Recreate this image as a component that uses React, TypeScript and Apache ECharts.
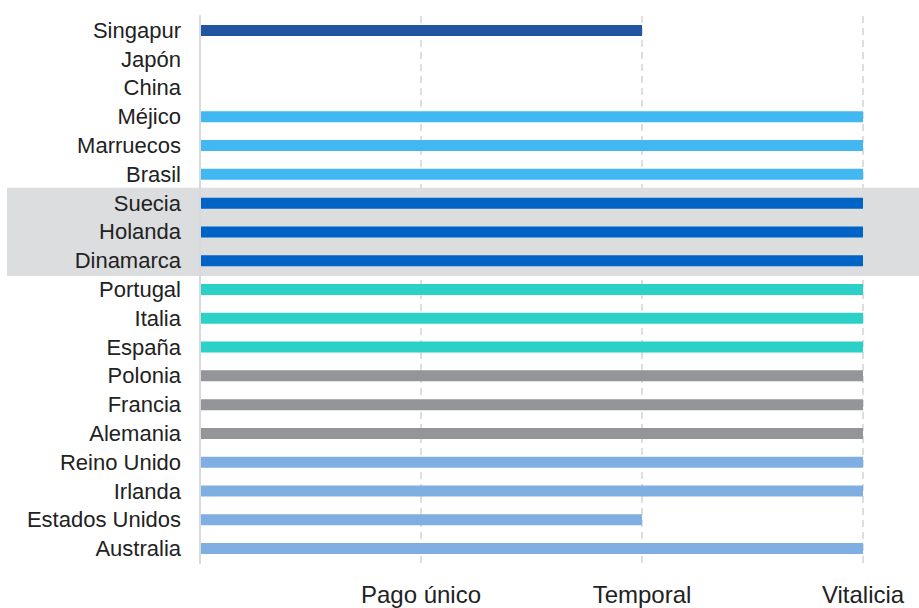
import React, { useEffect, useRef } from "react";
import * as echarts from "echarts";

const countries = [
  "Singapur", "Japón", "China", "Méjico", "Marruecos", "Brasil",
  "Suecia", "Holanda", "Dinamarca", "Portugal", "Italia", "España",
  "Polonia", "Francia", "Alemania", "Reino Unido", "Irlanda",
  "Estados Unidos", "Australia",
];
const values = [2, 0, 0, 3, 3, 3, 3, 3, 3, 3, 3, 3, 3, 3, 3, 3, 3, 2, 3];
const groups = [0, 0, 0, 1, 1, 1, 2, 2, 2, 3, 3, 3, 4, 4, 4, 5, 5, 5, 5];
const groupColors = ["#2255a0", "#41b8f2", "#0063c6", "#2bd1c6", "#939598", "#7faee2"];
const tickLabels = ["", "Pago único", "Temporal", "Vitalicia"];
const highlightFrom = "Suecia";
const highlightTo = "Dinamarca";

export default function App() {
  const ref = useRef<HTMLDivElement>(null);
  useEffect(() => {
    if (!ref.current) return;
    const chart = echarts.init(ref.current, null, { renderer: "svg" });
    const font = "'Liberation Sans', Arial, Helvetica, sans-serif";
    chart.setOption({
      animation: false,
      grid: { left: 200, right: 56, top: 16, bottom: 45, containLabel: false },
      xAxis: {
        type: "value",
        min: 0,
        max: 3,
        interval: 1,
        z: 0,
        axisLine: { show: false },
        axisTick: { show: false },
        splitLine: { show: true, lineStyle: { color: "#dedede", width: 2, type: [7, 5] } },
        axisLabel: {
          formatter: (v: number) => tickLabels[Math.round(v)] ?? "",
          fontSize: 24,
          color: "#222",
          fontFamily: font,
          margin: 19,
        },
      },
      yAxis: {
        type: "category",
        data: countries,
        inverse: true,
        z: 5,
        axisLine: { show: true, lineStyle: { color: "#d9d9d9", width: 2 } },
        axisTick: { show: false },
        splitLine: { show: false },
        axisLabel: { fontSize: 22, color: "#222", fontFamily: font, margin: 19 },
      },
      series: [
        {
          type: "bar",
          barWidth: 11,
          z: 2,
          data: values.map((v, i) => ({ value: v, itemStyle: { color: groupColors[groups[i]] } })),
        },
      ],
    });
    const y1 = chart.convertToPixel({ yAxisIndex: 0 }, highlightFrom) as number;
    const y2 = chart.convertToPixel({ yAxisIndex: 0 }, highlightTo) as number;
    const step = Math.abs(
      (chart.convertToPixel({ yAxisIndex: 0 }, countries[1]) as number) -
        (chart.convertToPixel({ yAxisIndex: 0 }, countries[0]) as number)
    );
    const top = Math.min(y1, y2) - step / 2 - 1;
    const bottom = Math.max(y1, y2) + step / 2 + 1;
    chart.setOption({
      graphic: [
        {
          type: "rect",
          z: 1,
          shape: { x: 7, y: top, width: 912, height: bottom - top },
          style: { fill: "#dcdddf" },
          silent: true,
        },
      ],
    });
    return () => chart.dispose();
  }, []);
  return <div ref={ref} style={{ width: 919, height: 608, position: "absolute", left: 0, top: 0 }} />;
}
